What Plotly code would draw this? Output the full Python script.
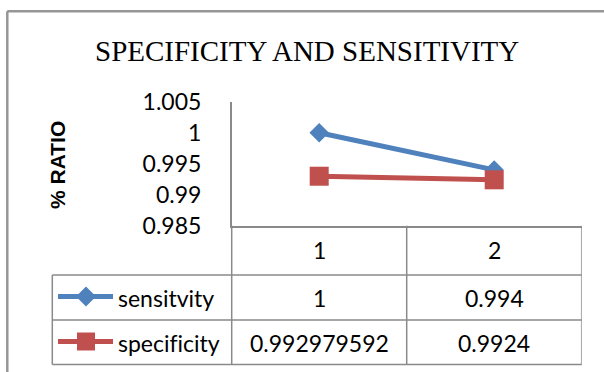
import plotly.graph_objects as go

# Data
categories = [1, 2]
series_names = ["sensitvity", "specificity"]
sensitivity = [1, 0.994]
specificity = [0.992979592, 0.9924]
y_ticks = [0.985, 0.99, 0.995, 1, 1.005]
y_tick_labels = ["0.985", "0.99", "0.995", "1", "1.005"]

W, H = 604, 372
BLUE = "#4F81BD"
RED = "#C0504D"
GRID = "#8a8a8a"
BORDER = "#969696"
NUM_FONT = "Lato"
NUM_SIZE = 23


def px(x):
    return x / W


def py(y):
    return 1 - y / H


def no_lig(s):
    # keep "fi" as two separate glyphs
    return s.replace("fi", "f\u200ci")


# Plot area and data-table geometry (pixels)
plot_left, plot_right = 231.7, 581.7
plot_top, plot_bottom = 101.7, 225.7
legend_left = 52.3
row_lines = [275.0, 320.0, 364.5]
row_centers = [250.5, 297.5, 342.5]

fig = go.Figure()
series = [(series_names[0], sensitivity, BLUE, "diamond", 15),
          (series_names[1], specificity, RED, "square", 19)]
for name, vals, color, sym, size in series:
    fig.add_trace(go.Scatter(
        x=categories, y=vals, name=name, mode="lines+markers",
        line=dict(color=color, width=5),
        marker=dict(symbol=sym, size=size, color=color, line=dict(width=0)),
        showlegend=False, cliponaxis=False,
    ))

shapes = []


def hline(y, x0, x1, color=GRID, w=1.5):
    shapes.append(dict(type="line", xref="paper", yref="paper",
                       x0=px(x0), x1=px(x1), y0=py(y), y1=py(y),
                       line=dict(color=color, width=w)))


def vline(x, y0, y1, color=GRID, w=1.5, xref="paper"):
    xx = px(x) if xref == "paper" else x
    shapes.append(dict(type="line", xref=xref, yref="paper",
                       x0=xx, x1=xx, y0=py(y0), y1=py(y1),
                       line=dict(color=color, width=w)))


# outer chart border (top and left edges visible)
hline(11.3, 7.3, W, color=BORDER, w=2.5)
vline(7.3, 11.3, H, color=BORDER, w=2.5)

# data table grid
for y in row_lines:
    hline(y, legend_left, plot_right)
vline(legend_left, row_lines[0], row_lines[-1])
vline(plot_left, plot_bottom, row_lines[-1])
for xb in [1.5, 2.5]:
    vline(xb, plot_bottom, row_lines[-1], xref="x")

# legend keys inside the table
key_x0, key_x1, key_c = 58, 113, 86
for i, (name, vals, color, sym, size) in enumerate(series):
    yc = row_centers[i + 1] - 1
    hline(yc, key_x0, key_x1, color=color, w=5)
    if sym == "diamond":
        r = 10
        path = (f"M {px(key_c - r)} {py(yc)} L {px(key_c)} {py(yc - r)} "
                f"L {px(key_c + r)} {py(yc)} L {px(key_c)} {py(yc + r)} Z")
        shapes.append(dict(type="path", xref="paper", yref="paper", path=path,
                           fillcolor=color, line=dict(width=0)))
    else:
        r = 9
        shapes.append(dict(type="rect", xref="paper", yref="paper",
                           x0=px(key_c - r), x1=px(key_c + r),
                           y0=py(yc + r), y1=py(yc - r),
                           fillcolor=color, line=dict(width=0)))

annotations = []
# title
annotations.append(dict(text="SPECIFICITY AND SENSITIVITY", xref="paper", yref="paper",
                        x=px(307), y=py(51), xanchor="center", yanchor="middle",
                        showarrow=False,
                        font=dict(family="Liberation Serif", size=29, color="#000")))
# y-axis title
annotations.append(dict(text="<b>% RATIO</b>", xref="paper", yref="paper",
                        x=px(57), y=py(165), xanchor="center", yanchor="middle",
                        textangle=-90, showarrow=False,
                        font=dict(family="Liberation Sans", size=21, color="#000")))
# table: category header row
for c in categories:
    annotations.append(dict(text=str(c), xref="x", yref="paper", x=c, y=py(row_centers[0]),
                            xanchor="center", yanchor="middle", showarrow=False,
                            font=dict(family=NUM_FONT, size=NUM_SIZE, color="#000")))
# table: one row per series
for i, (name, vals, color, sym, size) in enumerate(series):
    yc = row_centers[i + 1]
    annotations.append(dict(text=no_lig(name), xref="paper", yref="paper", x=px(116), y=py(yc),
                            xanchor="left", yanchor="middle", showarrow=False,
                            font=dict(family=NUM_FONT, size=NUM_SIZE, color="#000")))
    for c, v in zip(categories, vals):
        annotations.append(dict(text=f"{v:.10g}", xref="x", yref="paper", x=c, y=py(yc),
                                xanchor="center", yanchor="middle", showarrow=False,
                                font=dict(family=NUM_FONT, size=NUM_SIZE, color="#000")))

fig.update_layout(
    width=W, height=H,
    margin=dict(l=0, r=0, t=0, b=0, pad=0, autoexpand=False),
    paper_bgcolor="white", plot_bgcolor="white",
    shapes=shapes, annotations=annotations,
    xaxis=dict(domain=[px(plot_left), px(plot_right)], range=[0.5, 2.5],
               showgrid=False, zeroline=False, showticklabels=False, ticks="",
               showline=True, linecolor=GRID, linewidth=1.5, automargin=False),
    yaxis=dict(domain=[py(plot_bottom), py(plot_top)], range=[0.985, 1.005],
               tickvals=y_ticks, ticktext=y_tick_labels,
               showgrid=False, zeroline=False, ticks="",
               showline=True, linecolor=GRID, linewidth=1.5, automargin=False,
               ticklabelstandoff=24,
               tickfont=dict(family=NUM_FONT, size=NUM_SIZE, color="#000")),
)

fig.write_html("out.html")
